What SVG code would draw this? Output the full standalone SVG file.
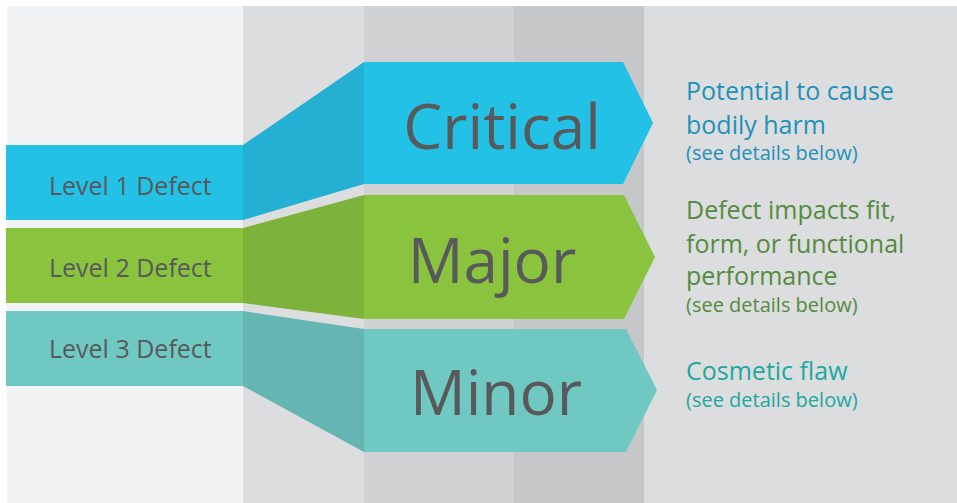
<svg xmlns="http://www.w3.org/2000/svg" width="957" height="503" viewBox="0 0 957 503">
<style>
.lvl{font-family:"Open Sans","Liberation Sans",sans-serif;font-size:25px;fill:#58595B}
.big{font-family:"Open Sans","Liberation Sans",sans-serif;font-size:62px;fill:#58595B;text-anchor:middle}
.desc{font-family:"Open Sans","Liberation Sans",sans-serif;font-size:25px}
.sub{font-size:20px}
.blue{fill:#23C1E6}.blueD{fill:#23B0D3}
.green{fill:#8AC43F}.greenD{fill:#7DB33A}
.teal{fill:#6FC9C2}.tealD{fill:#65B6B2}
</style>
<rect width="957" height="503" fill="#FFFFFF"/>
<g id="background">
<rect x="7" y="6" width="236" height="497" fill="#F1F2F4"/>
<rect x="243" y="6" width="121" height="497" fill="#DCDDDF"/>
<rect x="364" y="6" width="150" height="497" fill="#D0D1D3"/>
<rect x="514" y="6" width="130" height="497" fill="#C6C7C9"/>
<rect x="644" y="6" width="313" height="497" fill="#DCDDDF"/>
</g>
<g id="connectors">
<polygon class="blueD" points="243,145 364,62 364,184 243,220"/>
<polygon class="greenD" points="243,228 364,195 364,319 243,303"/>
<polygon class="tealD" points="243,311 364,329 364,452 243,386"/>
</g>
<g id="level1">
<rect class="blue" x="6" y="145" width="237" height="75"/>
<text class="lvl" x="49" y="195">Level 1 Defect</text>
</g>
<g id="level2">
<rect class="green" x="6" y="228" width="237" height="75"/>
<text class="lvl" x="49" y="277">Level 2 Defect</text>
</g>
<g id="level3">
<rect class="teal" x="6" y="311" width="237" height="75"/>
<text class="lvl" x="49" y="358">Level 3 Defect</text>
</g>
<g id="critical">
<polygon class="blue" points="364,62 623,62 653,123 623,184 364,184"/>
<text class="big" x="502" y="149">Critical</text>
</g>
<g id="major">
<polygon class="green" points="364,195 624,195 655,257 624,319 364,319"/>
<text class="big" x="492" y="283">Major</text>
</g>
<g id="minor">
<polygon class="teal" points="364,329 626,329 657,390 626,452 364,452"/>
<text class="big" x="496" y="415">Minor</text>
</g>
<g id="critical-desc">
<text class="desc" fill="#1E91B9"><tspan x="686" y="100">Potential to cause</tspan><tspan x="686" y="134">bodily harm</tspan><tspan class="sub" x="686" y="160">(see details below)</tspan></text>
</g>
<g id="major-desc">
<text class="desc" fill="#568A3E"><tspan x="686" y="219">Defect impacts fit,</tspan><tspan x="686" y="253">form, or functional</tspan><tspan x="686" y="285">performance</tspan><tspan class="sub" x="686" y="312">(see details below)</tspan></text>
</g>
<g id="minor-desc">
<text class="desc" fill="#1EA89E"><tspan x="686" y="380">Cosmetic flaw</tspan><tspan class="sub" x="686" y="407">(see details below)</tspan></text>
</g>
</svg>
